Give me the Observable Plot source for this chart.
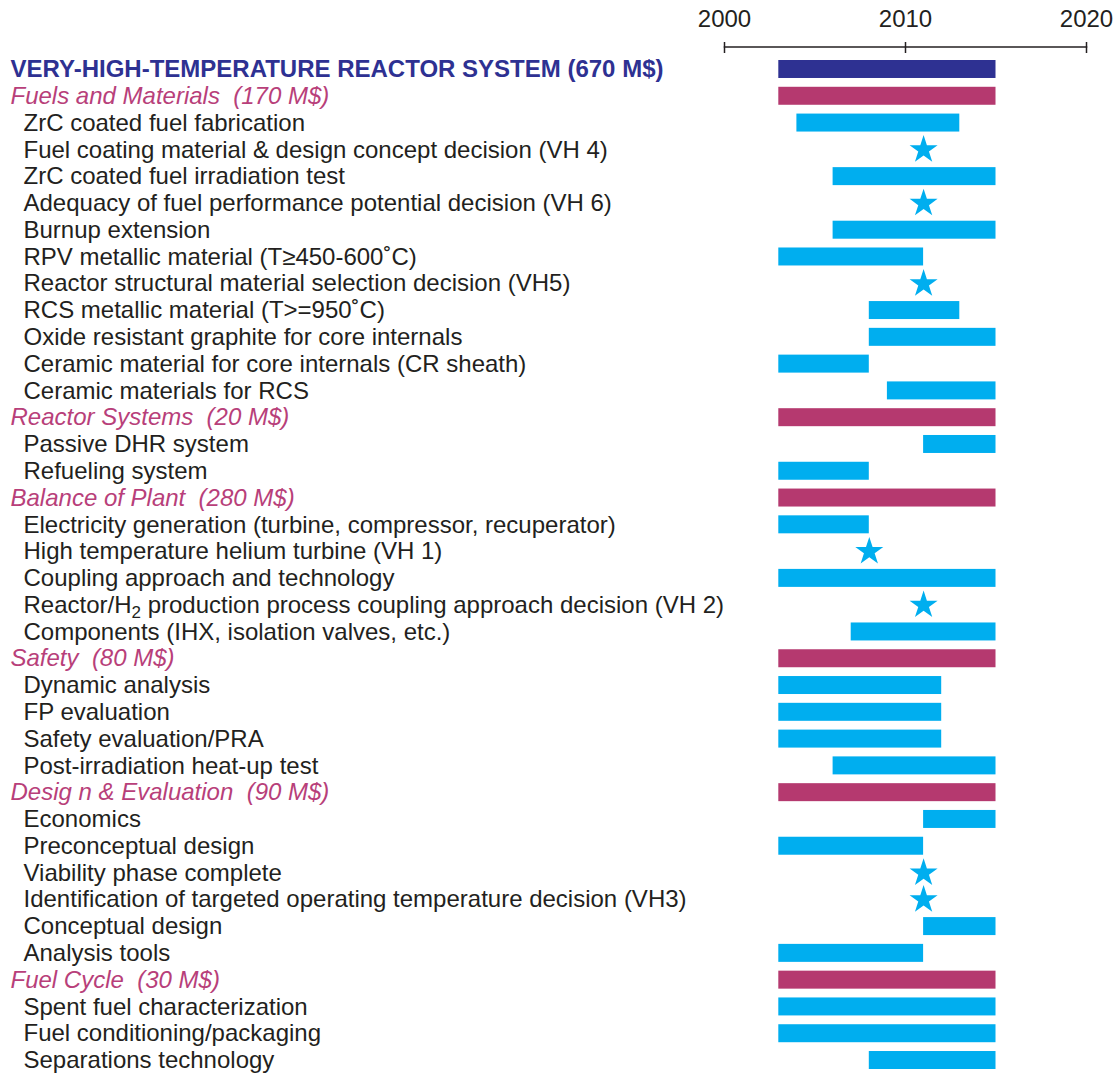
<!DOCTYPE html>
<html><head><meta charset="utf-8">
<script src="https://cdn.jsdelivr.net/npm/d3@7"></script>
<script src="https://cdn.jsdelivr.net/npm/@observablehq/plot@0.6"></script>
<style>body{margin:0;background:#fff} svg text{white-space:pre}</style>
</head><body><div id="chart"></div><script>
const labels = [
  "VERY-HIGH-TEMPERATURE REACTOR SYSTEM (670 M$)",
  "Fuels and Materials  (170 M$)",
  "ZrC coated fuel fabrication",
  "Fuel coating material & design concept decision (VH 4)",
  "ZrC coated fuel irradiation test",
  "Adequacy of fuel performance potential decision (VH 6)",
  "Burnup extension",
  "RPV metallic material (T≥450-600˚C)",
  "Reactor structural material selection decision (VH5)",
  "RCS metallic material (T>=950˚C)",
  "Oxide resistant graphite for core internals",
  "Ceramic material for core internals (CR sheath)",
  "Ceramic materials for RCS",
  "Reactor Systems  (20 M$)",
  "Passive DHR system",
  "Refueling system",
  "Balance of Plant  (280 M$)",
  "Electricity generation (turbine, compressor, recuperator)",
  "High temperature helium turbine (VH 1)",
  "Coupling approach and technology",
  "Reactor/H2 production process coupling approach decision (VH 2)",
  "Components (IHX, isolation valves, etc.)",
  "Safety  (80 M$)",
  "Dynamic analysis",
  "FP evaluation",
  "Safety evaluation/PRA",
  "Post-irradiation heat-up test",
  "Desig n & Evaluation  (90 M$)",
  "Economics",
  "Preconceptual design",
  "Viability phase complete",
  "Identification of targeted operating temperature decision (VH3)",
  "Conceptual design",
  "Analysis tools",
  "Fuel Cycle  (30 M$)",
  "Spent fuel characterization",
  "Fuel conditioning/packaging",
  "Separations technology"
];
const rowType = [
  "system","area","task","decision","task","decision","task","task","decision","task","task","task","task",
  "area","task","task",
  "area","task","decision","task","decision","task",
  "area","task","task","task","task",
  "area","task","task","decision","decision","task","task",
  "area","task","task","task"
];
const startYear = [
  2003,2003,2004,null,2006,null,2006,2003,null,2008,2008,2003,2009,
  2003,2011,2003,
  2003,2003,null,2003,null,2007,
  2003,2003,2003,2003,2006,
  2003,2011,2003,null,null,2011,2003,
  2003,2003,2003,2008
];
const endYear = [
  2015,2015,2013,null,2015,null,2015,2011,null,2013,2015,2008,2015,
  2015,2015,2008,
  2015,2008,null,2015,null,2015,
  2015,2012,2012,2012,2015,
  2015,2015,2011,null,null,2015,2011,
  2015,2015,2015,2015
];
const decisionYear = [
  null,null,null,2011,null,2011,null,null,2011,null,null,null,null,
  null,null,null,
  null,null,2008,null,2011,null,
  null,null,null,null,null,
  null,null,null,2011,2011,null,null,
  null,null,null,null
];
const axisTicks = [2000, 2010, 2020];
const typeColor = {system: "#2e3192", area: "#b5396f", task: "#00aeef"};

const rows = labels.map((label, i) => ({label, type: rowType[i], start: startYear[i], end: endYear[i], decision: decisionYear[i]}));
const bars = rows.filter(d => d.start != null);
const stars = rows.filter(d => d.decision != null);

const chart = Plot.plot({
  width: 1117, height: 1074,
  marginLeft: 724, marginRight: 31, marginTop: 46.5, marginBottom: 0,
  style: {fontFamily: "'Liberation Sans', Arial, Helvetica, sans-serif", fontSize: "24px", background: "#fff", color: "#231f20"},
  x: {domain: [2000, 2020]},
  y: {domain: labels, padding: 0, round: false, insetTop: 9.1, insetBottom: 0.6, axis: null},
  marks: [
    Plot.frame({anchor: "top", stroke: "#231f20", strokeWidth: 1.5}),
    Plot.axisX({anchor: "top", ticks: axisTicks, tickFormat: d => String(d), tickSize: 11, dy: 5.5, tickPadding: 14.5,
                stroke: "#231f20", strokeWidth: 1.5, fill: "#231f20", fontSize: 24, label: null}),
    Plot.barX(bars, {x1: "start", x2: "end", y: "label", fill: d => typeColor[d.type], insetTop: 4.4, insetBottom: 4.4}),
    Plot.dot(stars, {x: "decision", y: "label", symbol: "star", r: 8.8, fill: "#00aeef", stroke: null}),
    Plot.text(rows.filter(d => d.type === "system"), {y: "label", text: "label", frameAnchor: "left", textAnchor: "start", dx: -714, fill: "#2e3192", fontWeight: "bold"}),
    Plot.text(rows.filter(d => d.type === "area"), {y: "label", text: "label", frameAnchor: "left", textAnchor: "start", dx: -714, fill: "#b83f7a", fontStyle: "italic"}),
    Plot.text(rows.filter(d => d.type === "task" || d.type === "decision"), {y: "label", text: "label", frameAnchor: "left", textAnchor: "start", dx: -701, fill: "#231f20"})
  ]
});

// subscript for H2
const ns = "http://www.w3.org/2000/svg";
chart.querySelectorAll("text").forEach(t => {
  const s = t.textContent;
  const k = s.indexOf("/H2 ");
  if (k >= 0 && t.children.length === 0) {
    t.textContent = "";
    const a = document.createElementNS(ns, "tspan"); a.textContent = s.slice(0, k + 2);
    const b = document.createElementNS(ns, "tspan"); b.textContent = "2"; b.setAttribute("dy", "5"); b.setAttribute("font-size", "17");
    const c = document.createElementNS(ns, "tspan"); c.textContent = s.slice(k + 3); c.setAttribute("dy", "-5");
    t.append(a, b, c);
  }
});
document.getElementById("chart").append(chart);
</script></body></html>
